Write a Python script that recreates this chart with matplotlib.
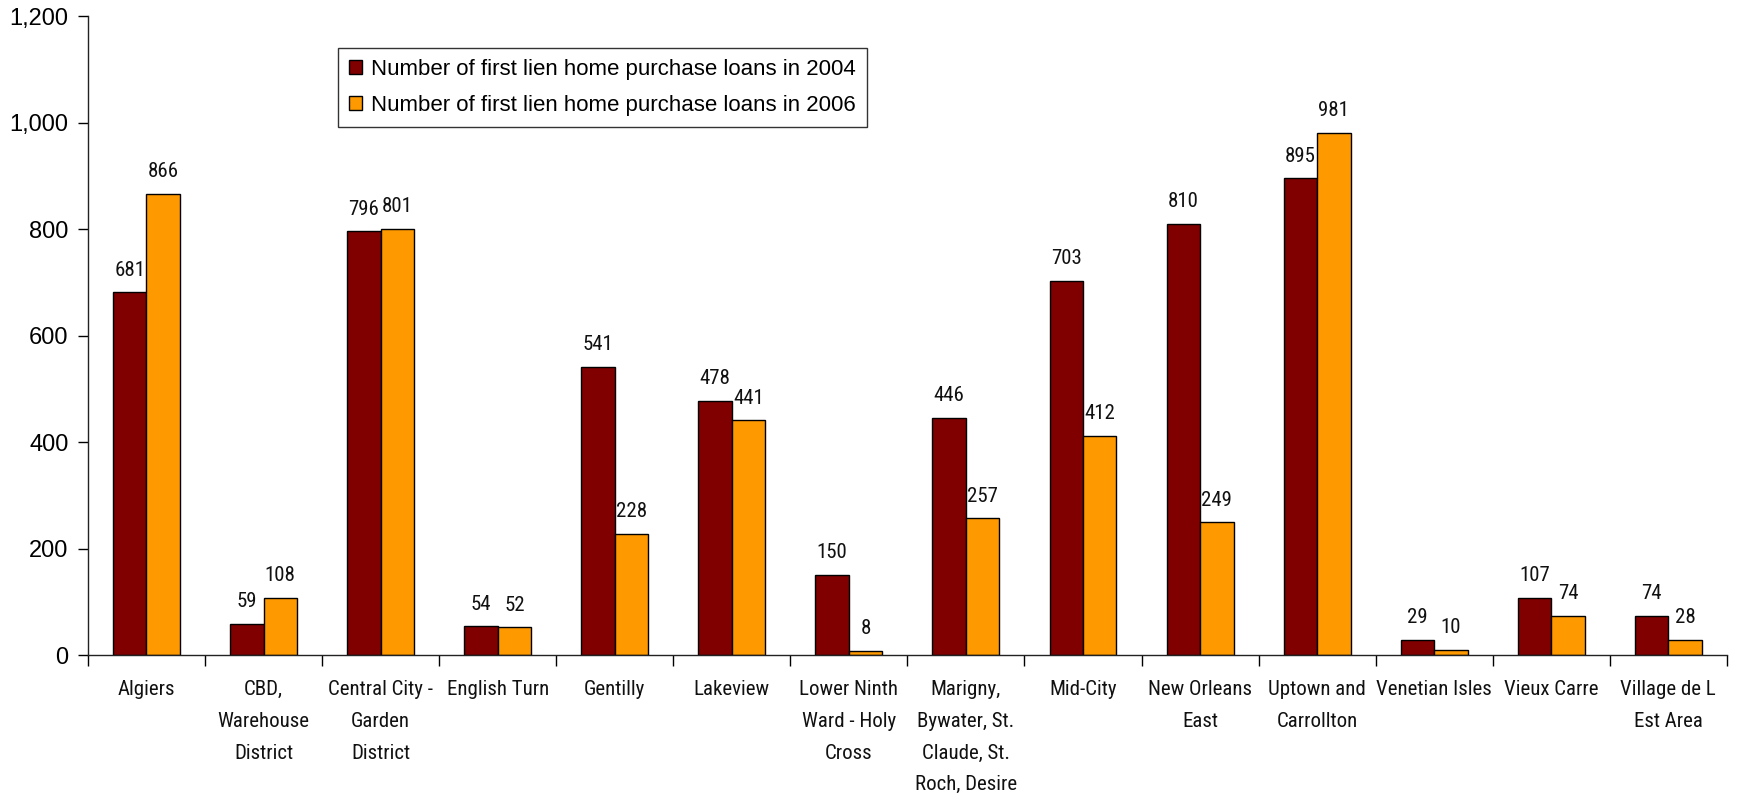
import numpy as np
import matplotlib
matplotlib.use("Agg")
import matplotlib.pyplot as plt
from matplotlib.ticker import FuncFormatter, FixedLocator, NullFormatter

neighborhoods = [
    "Algiers",
    "CBD,\nWarehouse\nDistrict",
    "Central City -\nGarden\nDistrict",
    "English Turn",
    "Gentilly",
    "Lakeview",
    "Lower Ninth\nWard - Holy\nCross",
    "Marigny,\nBywater, St.\nClaude, St.\nRoch, Desire",
    "Mid-City",
    "New Orleans\nEast",
    "Uptown and\nCarrollton",
    "Venetian Isles",
    "Vieux Carre",
    "Village de L\nEst Area",
]
loans_2004 = [681, 59, 796, 54, 541, 478, 150, 446, 703, 810, 895, 29, 107, 74]
loans_2006 = [866, 108, 801, 52, 228, 441, 8, 257, 412, 249, 981, 10, 74, 28]
series_names = [
    "Number of first lien home purchase loans in 2004",
    "Number of first lien home purchase loans in 2006",
]
y_ticks = [0, 200, 400, 600, 800, 1000, 1200]

narrow = ["Roboto Condensed", "Liberation Sans", "DejaVu Sans"]
plain = ["Liberation Sans", "DejaVu Sans"]

fig = plt.figure(figsize=(17.38, 7.99), dpi=100)
ax = fig.add_axes([0.0506, 0.1802, 0.943, 0.7997])

x = np.arange(len(neighborhoods))
w = 1 / 3.5
bars_a = ax.bar(x - w / 2, loans_2004, w, color="#800000", edgecolor="black",
                linewidth=1.0, label=series_names[0])
bars_b = ax.bar(x + w / 2, loans_2006, w, color="#FF9900", edgecolor="black",
                linewidth=1.0, label=series_names[1])

for bars, vals in ((bars_a, loans_2004), (bars_b, loans_2006)):
    for b, v in zip(bars, vals):
        ax.annotate(f"{v}", (b.get_x() + b.get_width() / 2, v),
                    xytext=(0, 12), textcoords="offset points",
                    ha="center", va="baseline", fontsize=15, family=narrow,
                    color="#111111")

ax.set_xlim(-0.5, len(neighborhoods) - 0.5)
ax.set_ylim(0, 1200)
ax.set_yticks(y_ticks)
ax.yaxis.set_major_formatter(FuncFormatter(lambda v, p: f"{int(v):,}"))
ax.tick_params(axis="y", direction="out", length=7, width=1, pad=7,
               labelsize=17)
for t in ax.get_yticklabels():
    t.set_family(plain)

# category separators as major ticks, names on minor ticks at the centers
ax.xaxis.set_major_locator(FixedLocator(np.arange(len(neighborhoods) + 1) - 0.5))
ax.xaxis.set_major_formatter(NullFormatter())
ax.xaxis.set_minor_locator(FixedLocator(x))
ax.set_xticklabels(neighborhoods, minor=True)
ax.tick_params(axis="x", which="major", direction="out", length=8, width=1)
ax.tick_params(axis="x", which="minor", length=0, pad=18, labelsize=15)
for t in ax.get_xticklabels(minor=True):
    t.set_family(narrow)
    t.set_linespacing(1.85)
    t.set_va("top")
    t.set_color("#111111")

for s in ("top", "right"):
    ax.spines[s].set_visible(False)
for s in ("left", "bottom"):
    ax.spines[s].set_color("#222222")
    ax.spines[s].set_linewidth(1)

leg = ax.legend(loc="upper left", bbox_to_anchor=(338 / 1738, 1 - 48 / 799),
                bbox_transform=fig.transFigure, frameon=True, fancybox=False,
                prop={"family": plain, "size": 16}, handlelength=0.6,
                handleheight=0.6, handletextpad=0.4, labelspacing=0.65,
                borderpad=0.5, borderaxespad=0)
leg.get_frame().set_edgecolor("black")
leg.get_frame().set_linewidth(1)

fig.savefig("out.png", dpi=100)
